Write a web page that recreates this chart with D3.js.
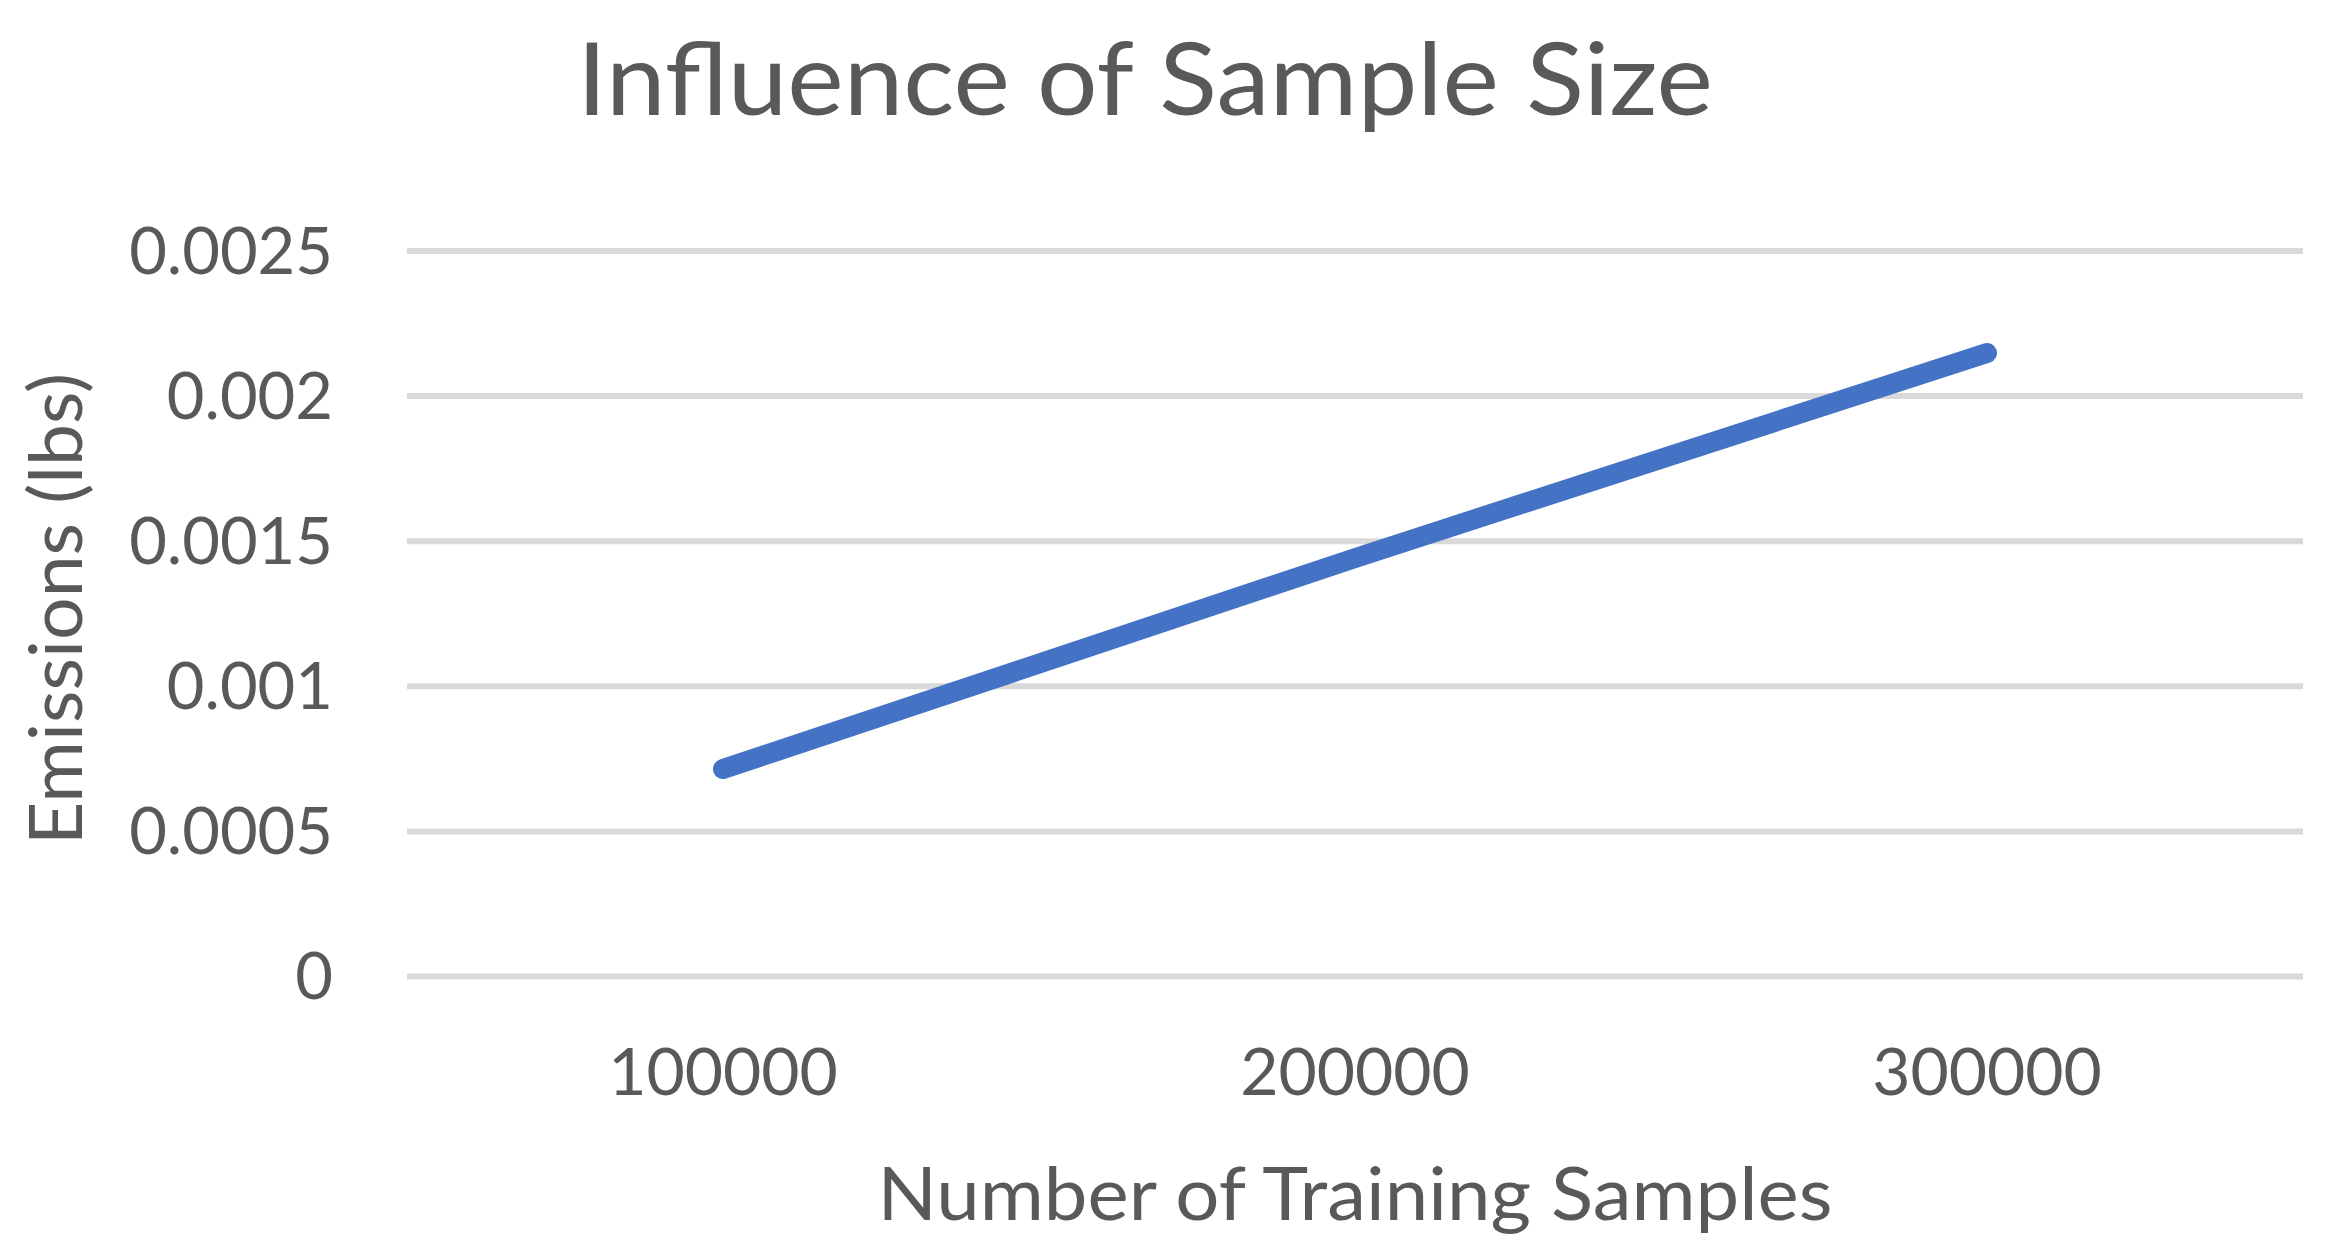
<!DOCTYPE html>
<html>
<head>
<meta charset="utf-8">
<script src="https://cdn.jsdelivr.net/npm/d3@7"></script>
<style>
  html, body { margin: 0; padding: 0; background: #ffffff; }
  svg { display: block; }
  text { font-family: Lato, "Open Sans", sans-serif; fill: #595959; }
</style>
</head>
<body>
<svg id="chart" width="2330" height="1253"></svg>
<script>
// ---- data ----
const categories = ["100000", "200000", "300000"];
const emissions = [0.000713, 0.00144, 0.002147];
const yTicks = [0, 0.0005, 0.001, 0.0015, 0.002, 0.0025];
const yTickLabels = ["0", "0.0005", "0.001", "0.0015", "0.002", "0.0025"];
const titleText = "Influence of Sample Size";
const xTitleText = "Number of Training Samples";
const yTitleText = "Emissions (lbs)";

// ---- layout ----
const plot = { left: 407, right: 2303, top: 250.5, bottom: 976 };
const svg = d3.select("#chart");

const x = d3.scaleBand().domain(categories).range([plot.left, plot.right]).padding(0);
const y = d3.scaleLinear().domain([0, 0.0025]).range([plot.bottom, plot.top]);

// gridlines
const yAxisGrid = d3.axisLeft(y).tickValues(yTicks).tickSize(-(plot.right - plot.left)).tickFormat("");
const grid = svg.append("g").attr("transform", `translate(${plot.left},0)`).call(yAxisGrid);
grid.select(".domain").remove();
grid.selectAll(".tick line").attr("stroke", "#d9d9d9").attr("stroke-width", 6);

// y tick labels
const yAxis = d3.axisLeft(y).tickValues(yTicks).tickSize(0).tickPadding(0)
  .tickFormat((d, i) => yTickLabels[i]);
const gy = svg.append("g").attr("transform", `translate(333,0)`).call(yAxis);
gy.select(".domain").remove();
gy.selectAll(".tick text")
  .attr("font-family", "Lato, sans-serif")
  .attr("font-size", 65)
  .attr("fill", "#595959")
  .attr("dy", "0.35em");

// x tick labels
const xAxis = d3.axisBottom(x).tickSize(0).tickPadding(0);
const gx = svg.append("g").attr("transform", `translate(0,1095)`).call(xAxis);
gx.select(".domain").remove();
gx.selectAll(".tick text")
  .attr("font-family", "Lato, sans-serif")
  .attr("font-size", 66)
  .attr("fill", "#595959")
  .attr("dy", 0)
  .attr("y", 0);

// line
const line = d3.line()
  .x((d, i) => x(categories[i]) + x.bandwidth() / 2)
  .y(d => y(d));
svg.append("path")
  .datum(emissions)
  .attr("d", line)
  .attr("fill", "none")
  .attr("stroke", "#4472c4")
  .attr("stroke-width", 20)
  .attr("stroke-linecap", "round")
  .attr("stroke-linejoin", "round");

// title
svg.append("text")
  .attr("x", 1145).attr("y", 115)
  .attr("text-anchor", "middle")
  .attr("font-size", 101)
  .attr("font-weight", 400)
  .attr("textLength", 1136)
  .attr("lengthAdjust", "spacingAndGlyphs")
  .attr("fill", "#595959")
  .text(titleText);

// x axis title
svg.append("text")
  .attr("x", (plot.left + plot.right) / 2).attr("y", 1220)
  .attr("text-anchor", "middle")
  .attr("font-size", 73)
  .attr("textLength", 955)
  .attr("lengthAdjust", "spacingAndGlyphs")
  .attr("fill", "#595959")
  .text(xTitleText);

// y axis title
svg.append("text")
  .attr("transform", `translate(82,609) rotate(-90)`)
  .attr("text-anchor", "middle")
  .attr("font-size", 73)
  .attr("textLength", 472)
  .attr("lengthAdjust", "spacingAndGlyphs")
  .attr("fill", "#595959")
  .text(yTitleText);
</script>
</body>
</html>
